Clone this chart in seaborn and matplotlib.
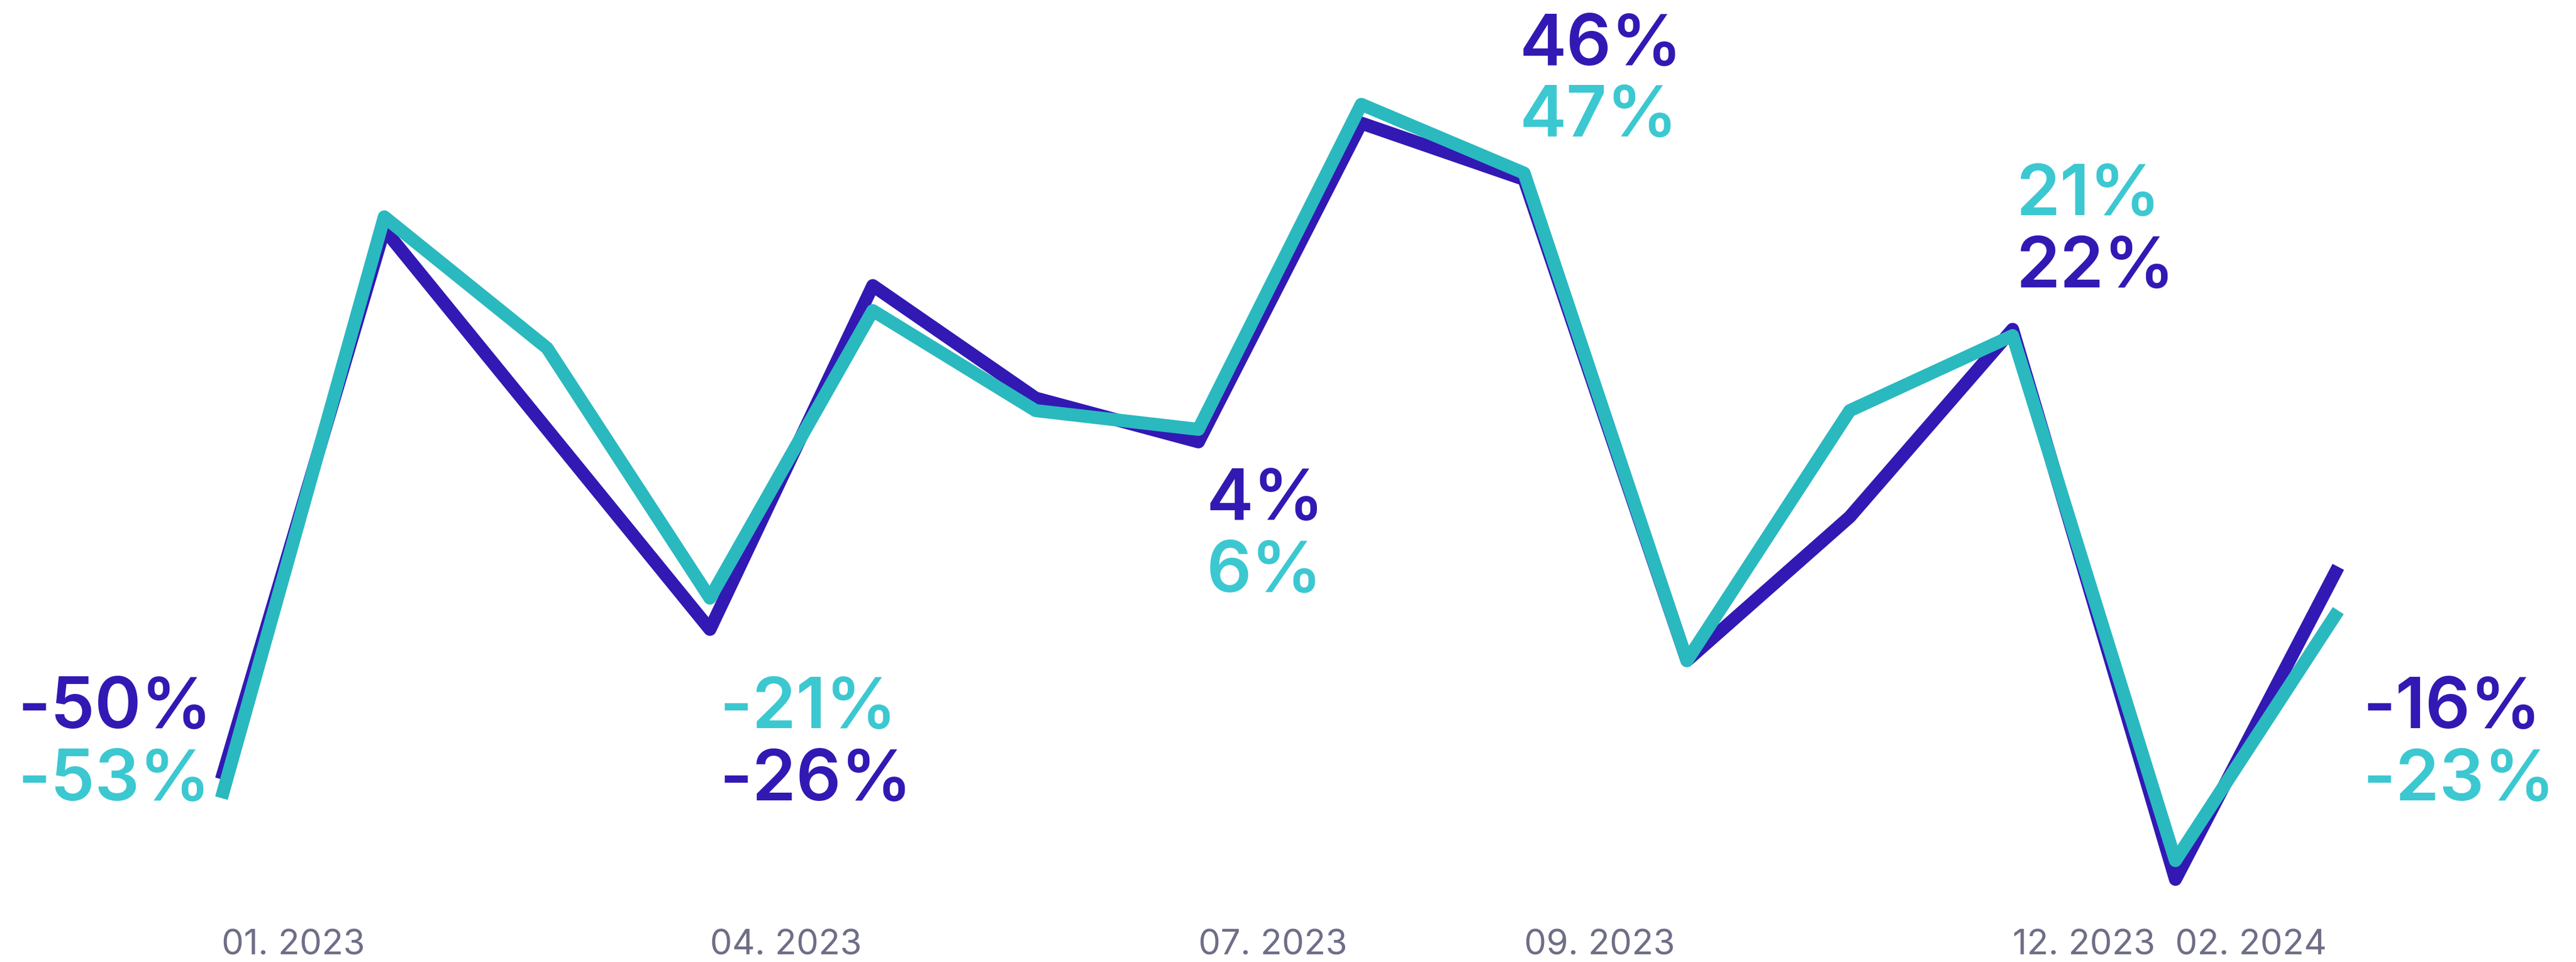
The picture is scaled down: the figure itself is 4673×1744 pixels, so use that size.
import numpy as np
import pandas as pd
import matplotlib
matplotlib.use("Agg")
import matplotlib.pyplot as plt
import seaborn as sns

# ── data ─────────────────────────────────────────────────────────────────────
MONTHS = ["01.2023", "02.2023", "03.2023", "04.2023", "05.2023", "06.2023",
          "07.2023", "08.2023", "09.2023", "10.2023", "11.2023", "12.2023",
          "01.2024", "02.2024"]
SERIES_A = [-50, 38, 6, -26, 29, 11, 4, 55, 46, -31, -8, 22, -66, -16]   # purple
SERIES_B = [-53, 40, 19, -21, 25, 9, 6, 58, 47, -31, 9, 21, -63, -23]   # teal

TICK_IDX = [0, 3, 6, 8, 11, 12]
TICK_LABELS = ["01. 2023", "04. 2023", "07. 2023", "09. 2023", "12. 2023", "02. 2024"]

PURPLE = "#3219B4"
TEAL = "#2AB9BF"
TEAL_TXT = "#3CC8D1"
GREY = "#6F6E87"

df = pd.DataFrame({
    "idx": np.tile(np.arange(len(MONTHS)), 2),
    "value": SERIES_A + SERIES_B,
    "series": ["a"] * len(MONTHS) + ["b"] * len(MONTHS),
})

# ── figure ───────────────────────────────────────────────────────────────────
sns.set_style("white")
plt.rcParams["font.family"] = ["Inter", "DejaVu Sans"]

fig = plt.figure(figsize=(46.73, 17.44), dpi=100)
ax = fig.add_axes([0, 0.045, 1, 0.955])

sns.lineplot(data=df, x="idx", y="value", hue="series",
             palette={"a": PURPLE, "b": TEAL}, linewidth=17,
             legend=False, ax=ax)
for ln in ax.lines:
    ln.set_solid_joinstyle("round")
    ln.set_solid_capstyle("butt")

ax.set_xlim(-1.36, 14.46)
ax.set_ylim(-72.3, 74.7)
ax.set_yticks([])
# the last label sits left-aligned from the 01.2024 slot, as in the original
ax.set_xticks(TICK_IDX, TICK_LABELS)
ax.tick_params(axis="x", length=0, pad=14, labelsize=46, labelcolor=GREY)
for t in ax.get_xticklabels():
    t.set_ha("left")
ax.set_xlabel("")
ax.set_ylabel("")
sns.despine(ax=ax, left=True, bottom=True)

# ── value labels (x, y anchor in data units, text, colour) ──────────────────
LABELS = [
    (-1.25, -41.8, "-50%", PURPLE), (-1.25, -53.4, "-53%", TEAL_TXT),
    (3.06, -41.8, "-21%", TEAL_TXT), (3.06, -53.4, "-26%", PURPLE),
    (6.05, -8.4, "4%", PURPLE), (6.05, -20.0, "6%", TEAL_TXT),
    (7.97, 64.3, "46%", PURPLE), (7.97, 52.9, "47%", TEAL_TXT),
    (11.02, 40.3, "21%", TEAL_TXT), (11.02, 28.7, "22%", PURPLE),
    (13.15, -41.8, "-16%", PURPLE), (13.15, -53.4, "-23%", TEAL_TXT),
]
for x, y, s, c in LABELS:
    ax.text(x, y, s, color=c, fontsize=92, fontweight="semibold",
            ha="left", va="baseline")

fig.savefig("out.png", dpi=100)
